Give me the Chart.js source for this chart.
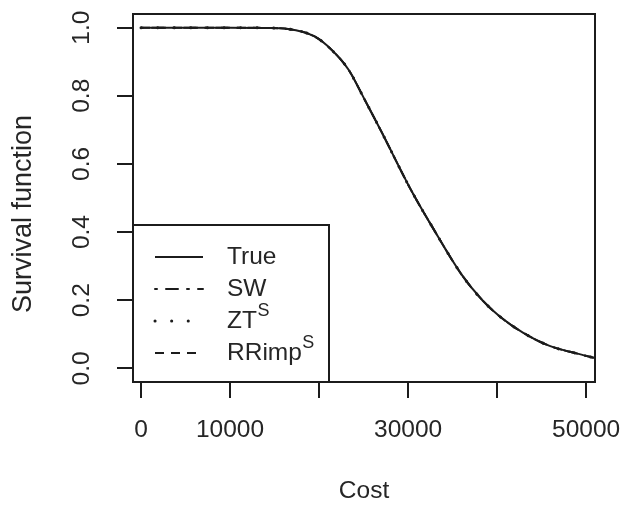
<!DOCTYPE html>
<html><head><meta charset="utf-8">
<script src="https://cdn.jsdelivr.net/npm/chart.js@4/dist/chart.umd.min.js"></script>
<style>html,body{margin:0;padding:0;background:#fff;overflow:hidden}canvas{display:block}</style>
</head><body>
<canvas id="c" width="627" height="506"></canvas>
<script>
// ---- data ----
const costs    = [0, 5000, 10000, 14000, 16500, 19500, 21400, 23300, 25100, 27000, 30300, 32700, 36100, 38350, 40270, 42900, 45900, 48900, 51000];
const survTrue = [1.000, 1.000, 1.000, 0.999, 0.996, 0.974, 0.935, 0.877, 0.790, 0.695, 0.525, 0.416, 0.272, 0.200, 0.153, 0.105, 0.066, 0.044, 0.030];
const survSW   = [1.000, 1.000, 1.000, 0.999, 0.996, 0.974, 0.935, 0.877, 0.790, 0.695, 0.525, 0.416, 0.272, 0.200, 0.153, 0.105, 0.066, 0.044, 0.030];
const survZT   = [1.000, 1.000, 1.000, 0.999, 0.996, 0.974, 0.935, 0.877, 0.790, 0.695, 0.525, 0.416, 0.272, 0.200, 0.153, 0.105, 0.066, 0.044, 0.030];
const survRR   = [1.000, 1.000, 1.000, 0.999, 0.996, 0.974, 0.935, 0.877, 0.790, 0.695, 0.525, 0.416, 0.272, 0.200, 0.153, 0.105, 0.066, 0.044, 0.030];
const seriesNames = ['True', 'SW', 'ZT', 'RRimp'];
const seriesSup   = ['', '', 'S', 'S'];
const xTicks = [0, 10000, 20000, 30000, 40000, 50000];
const xTickLabels = ['0', '10000', '', '30000', '', '50000'];
const yTicks = [0, 0.2, 0.4, 0.6, 0.8, 1.0];
const yTickLabels = ['0.0', '0.2', '0.4', '0.6', '0.8', '1.0'];
const xTitle = 'Cost';
const yTitle = 'Survival function';

// ---- styles ----
const FAM = "'Liberation Sans', Arial, Helvetica, sans-serif";
const INK = '#1c1c1c';
const TXT = '#262626';
const FS = 24.5;
const dashes = [[], [2, 9, 12, 9], [0.1, 16.5], [9, 7]];
const caps = ['butt', 'round', 'round', 'butt'];
const widths = [2, 2, 3, 2];

const allSeries = [survTrue, survSW, survZT, survRR];
const datasets = allSeries.map((s, k) => ({
  label: seriesNames[k] + seriesSup[k],
  data: costs.map((c, i) => ({x: c, y: s[i]})),
  borderColor: INK,
  borderWidth: widths[k],
  borderDash: dashes[k],
  borderCapStyle: caps[k],
  pointRadius: 0,
  fill: false,
  cubicInterpolationMode: 'monotone',
  order: 4 - k
}));

const boxPlugin = {
  id: 'rbox',
  afterDatasetsDraw(chart) {
    const ctx = chart.ctx, a = chart.chartArea;
    ctx.save();
    ctx.strokeStyle = INK; ctx.lineWidth = 2;
    ctx.strokeRect(a.left, a.top, a.right - a.left, a.bottom - a.top);
    // legend (bottom-left)
    const lw = 196, lh = 157;
    const L = a.left, T = a.bottom - lh;
    ctx.fillStyle = '#fff';
    ctx.fillRect(L, T, lw, lh);
    ctx.strokeRect(L, T, lw, lh);
    const rows = [32, 64, 96, 128];
    chart.data.datasets.forEach((ds, k) => {
      const y = T + rows[k];
      ctx.save();
      ctx.strokeStyle = INK;
      ctx.lineWidth = widths[k];
      ctx.lineCap = caps[k];
      ctx.setLineDash(dashes[k]);
      ctx.beginPath(); ctx.moveTo(L + 22, y); ctx.lineTo(L + 70, y); ctx.stroke();
      ctx.restore();
      ctx.fillStyle = TXT;
      ctx.textBaseline = 'middle';
      ctx.textAlign = 'left';
      ctx.font = FS + 'px ' + FAM;
      ctx.fillText(seriesNames[k], L + 94, y);
      if (seriesSup[k]) {
        const w = ctx.measureText(seriesNames[k]).width;
        ctx.font = Math.round(FS * 0.72) + 'px ' + FAM;
        ctx.fillText(seriesSup[k], L + 94 + w + 0.5, y - 10);
      }
    });
    // y-axis title
    ctx.save();
    ctx.translate(24, a.top + (a.bottom - a.top) / 2 + 16);
    ctx.rotate(-Math.PI / 2);
    ctx.fillStyle = TXT;
    ctx.textAlign = 'center';
    ctx.textBaseline = 'middle';
    ctx.font = '27px ' + FAM;
    ctx.fillText(yTitle, 0, 0);
    ctx.restore();
    ctx.restore();
  }
};

new Chart(document.getElementById('c'), {
  type: 'line',
  data: {datasets},
  plugins: [boxPlugin],
  options: {
    responsive: false,
    animation: false,
    events: [],
    layout: {padding: {top: 14, right: 32, left: 0, bottom: 0}},
    plugins: {legend: {display: false}, tooltip: {enabled: false}},
    scales: {
      x: {
        type: 'linear', min: -900, max: 51000,
        afterBuildTicks: s => { s.ticks = xTicks.map(v => ({value: v})); },
        afterFit: s => { s.height = 124; s.paddingLeft = 0; s.paddingRight = 0; s.paddingTop = 0; s.paddingBottom = 0; },
        grid: {drawOnChartArea: false, drawTicks: true, tickLength: 16, color: INK, lineWidth: 2},
        border: {display: false},
        ticks: {autoSkip: false, minRotation: 0, maxRotation: 0, padding: 18, color: TXT,
                font: {family: FAM, size: FS}, callback: (v, i) => xTickLabels[i]},
        title: {display: true, text: xTitle, color: TXT, font: {family: FAM, size: FS, lineHeight: 1},
                padding: {top: 0, bottom: 3}}
      },
      y: {
        type: 'linear', min: -0.04, max: 1.04,
        afterBuildTicks: s => { s.ticks = yTicks.map(v => ({value: v})); },
        afterFit: s => { s.width = 133; s.paddingLeft = 0; s.paddingRight = 0; s.paddingTop = 0; s.paddingBottom = 0; },
        grid: {drawOnChartArea: false, drawTicks: true, tickLength: 16, color: INK, lineWidth: 2},
        border: {display: false},
        ticks: {autoSkip: false, minRotation: 90, maxRotation: 90, crossAlign: 'center', padding: 18, color: TXT,
                font: {family: FAM, size: FS}, callback: (v, i) => yTickLabels[i]},
        title: {display: false}
      }
    }
  }
});
</script>
</body></html>
